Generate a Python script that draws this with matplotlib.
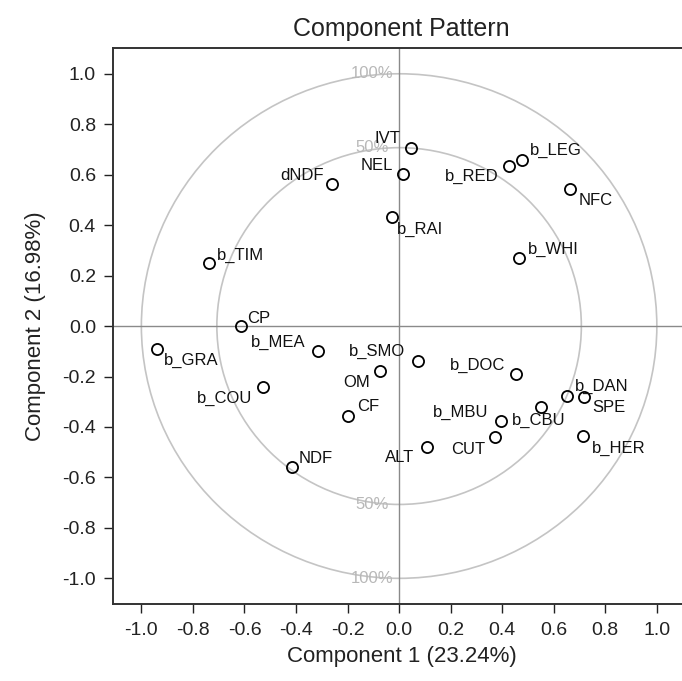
import numpy as np
import matplotlib.pyplot as plt
from matplotlib.patches import Ellipse

plt.rcParams['font.family'] = ['Liberation Sans', 'DejaVu Sans']

# Cargas de las variables (componente 1, componente 2)
names = ['IVT', 'NEL', 'dNDF', 'b_RAI', 'b_TIM', 'CP', 'b_GRA', 'b_MEA', 'b_COU',
         'OM', 'CF', 'NDF', 'b_SMO', 'ALT', 'b_DOC', 'b_MBU', 'CUT', 'b_CBU',
         'b_DAN', 'SPE', 'b_HER', 'b_WHI', 'NFC', 'b_RED', 'b_LEG']
comp1 = [0.047, 0.014, -0.259, -0.028, -0.737, -0.613, -0.940, -0.313, -0.530,
         -0.074, -0.199, -0.416, 0.075, 0.107, 0.454, 0.396, 0.374, 0.551,
         0.651, 0.719, 0.715, 0.467, 0.665, 0.428, 0.476]
comp2 = [0.705, 0.601, 0.563, 0.433, 0.251, 0.001, -0.091, -0.098, -0.241,
         -0.178, -0.356, -0.558, -0.138, -0.479, -0.190, -0.375, -0.441, -0.322,
         -0.276, -0.283, -0.436, 0.268, 0.542, 0.636, 0.658]

# desplazamiento de cada etiqueta (pixeles, borde izquierdo / linea base)
offsets = {
    'IVT': (-37, 5), 'NEL': (-42, 4), 'dNDF': (-52, 4), 'b_RAI': (5, -17),
    'b_TIM': (8, 3), 'CP': (6, 3), 'b_GRA': (7, -16), 'b_MEA': (-68, 4),
    'b_COU': (-66, -16), 'OM': (-37, -16), 'CF': (9, 5), 'NDF': (7, 4),
    'b_SMO': (-70, 5), 'ALT': (-42, -15), 'b_DOC': (-66, 4), 'b_MBU': (-68, 4),
    'CUT': (-44, -17), 'b_CBU': (-29, -18), 'b_DAN': (8, 5), 'SPE': (8, -15),
    'b_HER': (9, -17), 'b_WHI': (8, 5), 'NFC': (8, -16), 'b_RED': (-64, -15),
    'b_LEG': (8, 5),
}

radii = [1.0, np.sqrt(0.5)]
radius_labels = ['100%', '50%']
ticks = [-1.0, -0.8, -0.6, -0.4, -0.2, 0.0, 0.2, 0.4, 0.6, 0.8, 1.0]

fig = plt.figure(figsize=(6.82, 6.81), dpi=100)
ax = fig.add_axes([0.1661, 0.1126, 0.845, 0.8176])

for r, lab in zip(radii, radius_labels):
    ax.add_patch(Ellipse((0, 0), 2 * r, 2 * r, fill=False, color='#c4c4c4', lw=1.2, zorder=1))
    for s in (1, -1):
        ax.annotate(lab, (0, s * r), xytext=(-27, 0), textcoords='offset pixels',
                    ha='center', va='center', fontsize=12, color='#b8b8b8', zorder=2)

ax.axhline(0, color='#8a8a8a', lw=1.0, zorder=1)
ax.axvline(0, color='#8a8a8a', lw=1.0, zorder=1)

ax.plot(comp1, comp2, 'o', ms=8, mfc='none', mec='black', mew=1.3, zorder=3)
for n, x, y in zip(names, comp1, comp2):
    ax.annotate(n, (x, y), xytext=offsets[n], textcoords='offset pixels',
                ha='left', va='baseline', fontsize=12, color='#111111', zorder=4)

ax.set_xlim(-1.109, 1.127)
ax.set_ylim(-1.103, 1.104)
ax.set_xticks(ticks)
ax.set_yticks(ticks)
ax.set_xticklabels(['%.1f' % t for t in ticks])
ax.set_yticklabels(['%.1f' % t for t in ticks])
ax.tick_params(length=6.5, width=1.0, labelsize=14, pad=6, colors='#222222')
for sp in ax.spines.values():
    sp.set_linewidth(1.4)
    sp.set_color('#333333')
ax.spines['right'].set_visible(False)

ax.set_xlabel('Component 1 (23.24%)', fontsize=16, color='#222222', labelpad=5)
ax.set_ylabel('Component 2 (16.98%)', fontsize=16, color='#222222', labelpad=12)
ax.set_title('Component Pattern', fontsize=18, color='#222222', pad=8)

plt.savefig('out.png', dpi=100)
